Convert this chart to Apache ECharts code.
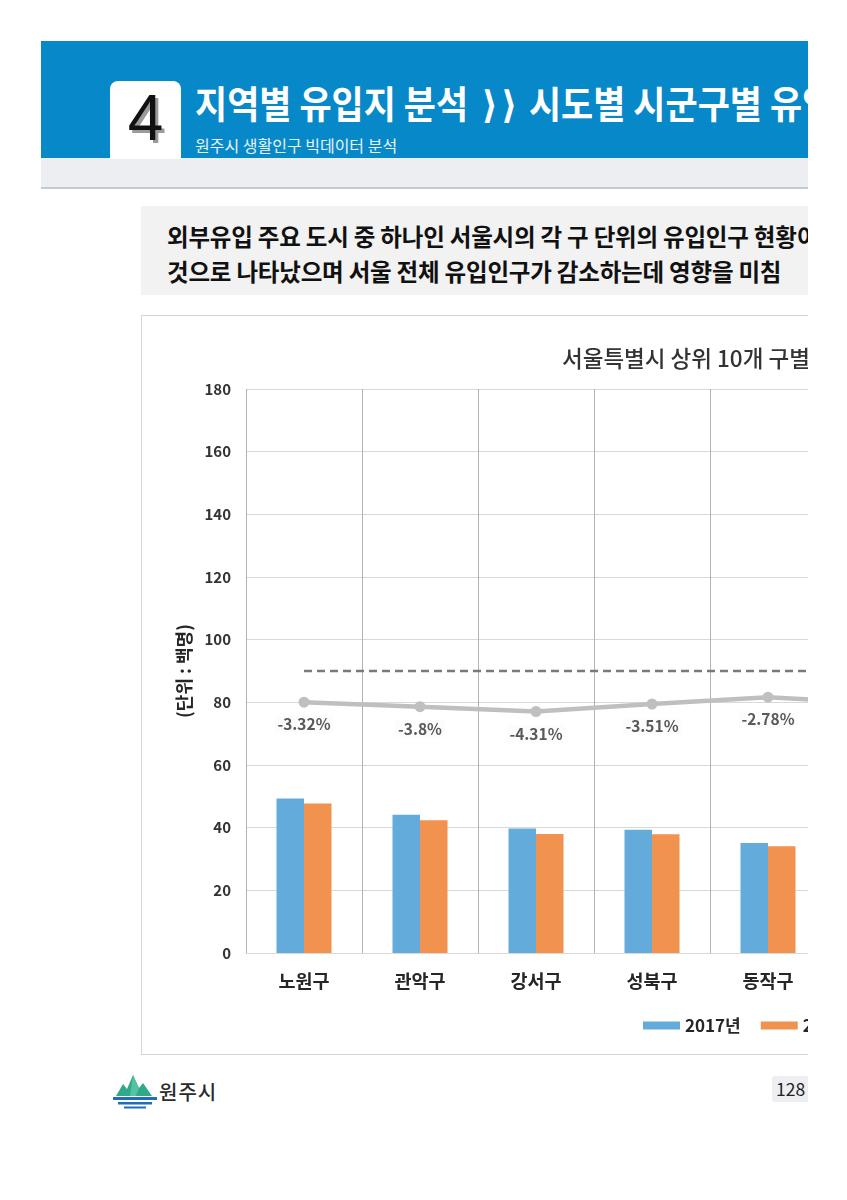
<!DOCTYPE html>
<html>
<head>
<meta charset="utf-8">
<script src="https://cdn.jsdelivr.net/npm/echarts@6/dist/echarts.min.js"></script>
<style>
  html, body { margin: 0; padding: 0; background: #ffffff; }
  body { width: 847px; height: 1200px; position: relative; overflow: hidden;
         font-family: "Noto Sans CJK KR", "Noto Sans", sans-serif; }
  #page { position: absolute; left: 0; top: 0; width: 808px; height: 1200px; overflow: hidden; }
  .abs { position: absolute; white-space: nowrap; }
  #band { left: 41px; top: 41px; width: 800px; height: 117px; background: #0789c9; }
  #band2 { left: 41px; top: 158px; width: 800px; height: 29px; background: #eceef2; border-bottom: 2px solid #c3ccd6; }
  #numbox { left: 110px; top: 81px; width: 71px; height: 78px; background: #ffffff; border-radius: 8px 8px 0 0; }
  #num { left: 110px; top: 84px; width: 71px; text-align: center; font-family: "Liberation Sans Narrow", "Liberation Sans", sans-serif;
         font-size: 64px; line-height: 68px; color: #111; text-shadow: 3px 3px 0 #9a9a9a; }
  #htitle { left: 195px; top: 78px; font-size: 38px; line-height: 48px; font-weight: 700; color: #ffffff;
            transform: scaleX(0.92); transform-origin: 0 0; }
  #htitle .chev { font-family: "DejaVu Sans", sans-serif; font-weight: 700; font-size: 38px; letter-spacing: 4px; margin-left: 6px; }
  #hsub { left: 195px; top: 134px; font-size: 16px; line-height: 22px; color: #e8f4fb; }
  #textbox { left: 141px; top: 206px; width: 700px; height: 89px; background: #f2f2f2; }
  .body { left: 167px; font-size: 23.5px; font-weight: 700; color: #111; line-height: 32px; letter-spacing: -0.2px; }
  #frame { left: 141px; top: 315px; width: 840px; height: 738px; border: 1px solid #d6d6d6; background: #fff; }
  #chart { position: absolute; left: 0; top: 0; width: 840px; height: 738px; }
  #logotext { left: 159px; top: 1077px; font-size: 20px; line-height: 30px; color: #2b2b2b; font-weight: 500; letter-spacing: 1px; }
  #pagebox { left: 772px; top: 1076px; width: 60px; height: 26px; background: #eceef1; border-radius: 3px; }
  #pagenum { left: 776px; top: 1076px; font-size: 17.5px; line-height: 26px; color: #222; }
</style>
</head>
<body>
<div id="page">
  <div class="abs" id="band"></div>
  <div class="abs" id="band2"></div>
  <div class="abs" id="numbox"></div>
  <div class="abs" id="num">4</div>
  <div class="abs" id="htitle">지역별 유입지 분석 <span class="chev">⟩⟩</span> 시도별 시군구별 유입인구 현황</div>
  <div class="abs" id="hsub">원주시 생활인구 빅데이터 분석</div>

  <div class="abs" id="textbox"></div>
  <div class="abs body" style="top:220px;">외부유입 주요 도시 중 하나인 서울시의 각 구 단위의 유입인구 현황이 감소하는</div>
  <div class="abs body" style="top:255px;">것으로 나타났으며 서울 전체 유입인구가 감소하는데 영향을 미침</div>

  <div class="abs" id="frame"><div id="chart"></div></div>

  <svg class="abs" style="left:112px;top:1072px;" width="46" height="40" viewBox="0 0 46 40">
    <path d="M4 24 L11 12 L15 17 L21 3 L27 16 L31 11 L40 24 Z" fill="#2ea98a"/>
    <path d="M21 3 L27 16 L24 24 L18 24 Z" fill="#57c2a3"/>
    <rect x="1" y="25" width="44" height="3" fill="#1f6fb8"/>
    <rect x="6" y="30" width="34" height="2.5" fill="#1f6fb8"/>
    <rect x="12" y="34.5" width="22" height="2" fill="#1f6fb8"/>
  </svg>
  <div class="abs" id="logotext">원주시</div>
  <div class="abs" id="pagebox"></div>
  <div class="abs" id="pagenum">128</div>
</div>
<script>
// ---- data ----
const categories = ['노원구', '관악구', '강서구', '성북구', '동작구', ''];
const seriesNames = ['2017년', '2018년'];
const pop2017 = [49.3, 44.1, 39.7, 39.3, 35.1];
const pop2018 = [47.7, 42.4, 38.0, 37.9, 34.1];
const changeRate = [-3.32, -3.8, -4.31, -3.51, -2.78, -3.47];
const zeroLine = [0, 0, 0, 0, 0, 0];
const chartTitle = '서울특별시 상위 10개 구별 유입인구 현황';
const yAxisName = '(단위 : 백명)';

const chart = echarts.init(document.getElementById('chart'), null, { renderer: 'canvas' });
const FONT = '"Noto Sans CJK KR", "Noto Sans", sans-serif';

chart.setOption({
  animation: false,
  textStyle: { fontFamily: FONT },
  title: {
    text: chartTitle,
    left: 415, top: 26,
    textStyle: { fontSize: 22.5, fontWeight: 500, color: '#333333', fontFamily: FONT }
  },
  legend: {
    data: seriesNames,
    left: 496, top: 696,
    icon: 'rect', itemWidth: 37, itemHeight: 8, itemGap: 20,
    textStyle: { fontSize: 17, fontWeight: 'bold', color: '#262626', fontFamily: FONT }
  },
  grid: { left: 104, top: 73, width: 696, height: 564, containLabel: false },
  xAxis: {
    type: 'category',
    data: categories,
    boundaryGap: true,
    axisLine: { show: true, lineStyle: { color: '#d9d9d9', width: 1 } },
    axisTick: { show: false },
    axisLabel: { margin: 19, fontSize: 18.5, fontWeight: 'bold', color: '#262626', fontFamily: FONT, interval: 0 },
    splitLine: { show: true, interval: 0, lineStyle: { color: '#b3b3b3', width: 1 } }
  },
  yAxis: [{
    type: 'value', min: 0, max: 180, interval: 20,
    name: yAxisName, nameLocation: 'middle', nameRotate: 90, nameGap: 53,
    nameTextStyle: { fontSize: 18, fontWeight: 'bold', color: '#262626', fontFamily: FONT },
    axisLine: { show: false }, axisTick: { show: false },
    axisLabel: { margin: 15, fontSize: 15, fontWeight: 'bold', color: '#333333', fontFamily: FONT },
    splitLine: { show: true, lineStyle: { color: '#d9d9d9', width: 1 } }
  }, {
    type: 'value', min: -30, max: 30, interval: 10, show: false,
    splitLine: { show: false }
  }],
  series: [{
    name: seriesNames[0], type: 'bar', data: pop2017, barWidth: 27.5, barGap: '0%',
    itemStyle: { color: '#63abda' }, z: 2
  }, {
    name: seriesNames[1], type: 'bar', data: pop2018, barWidth: 27.5,
    itemStyle: { color: '#f2924f' }, z: 2
  }, {
    name: '기준', type: 'line', yAxisIndex: 1, data: zeroLine, symbol: 'none',
    lineStyle: { color: '#7a7a7a', width: 2.5, type: [8, 5] }, z: 3, silent: true
  }, {
    name: '증감률', type: 'line', yAxisIndex: 1,
    data: changeRate.map((v, i) => categories[i] ? v : { value: v, label: { show: false } }),
    symbol: 'circle', symbolSize: 11,
    lineStyle: { color: '#bfbfbf', width: 4.5 },
    itemStyle: { color: '#bfbfbf' },
    label: {
      show: true, position: 'bottom', distance: 8,
      formatter: p => p.value + '%',
      fontSize: 15.5, fontWeight: 'bold', color: '#595959', fontFamily: FONT,
      backgroundColor: 'rgba(246,246,246,0.35)', padding: [1, 3]
    },
    z: 4
  }]
});
</script>
</body>
</html>
